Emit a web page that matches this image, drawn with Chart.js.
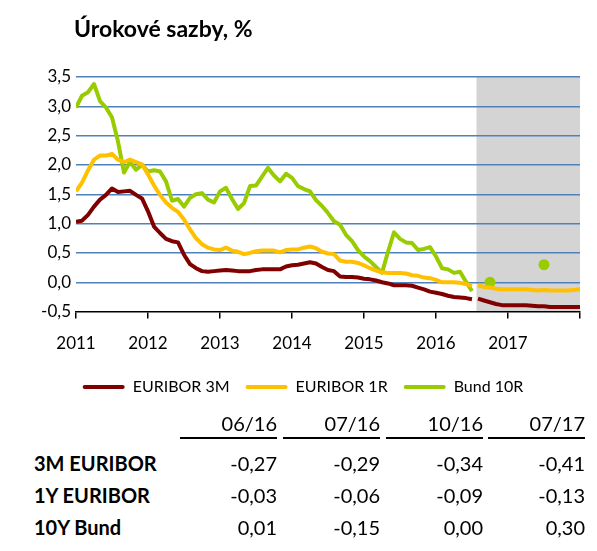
<!DOCTYPE html>
<html>
<head>
<meta charset="utf-8">
<script src="https://cdn.jsdelivr.net/npm/chart.js@4.4.1/dist/chart.umd.min.js"></script>
<style>
  html, body { margin: 0; padding: 0; background: #fff; }
  #wrap { position: relative; width: 597px; height: 551px; overflow: hidden; font-family: Lato, "Open Sans", sans-serif; color: #000; }
  #title { position: absolute; left: 74px; top: 14px; font-size: 23px; font-weight: bold; line-height: 28px; white-space: nowrap; }
  #c { position: absolute; left: 0; top: 0; }
  .hd, .val { position: absolute; width: 120px; text-align: right; font-size: 20px; line-height: 24px; white-space: nowrap; }
  .lbl { position: absolute; left: 34px; font-size: 20px; font-weight: bold; line-height: 24px; white-space: nowrap; }
  .ul { position: absolute; height: 2px; background: #000; width: 97px; }
</style>
</head>
<body>
<div id="wrap">
  <canvas id="c" width="597" height="425"></canvas>
  <div id="title">Úrokové sazby, %</div>
  <div id="table"></div>
</div>
<script>
// ---- data (monthly, Jan 2011 = month 0) ----
const years = ['2011', '2012', '2013', '2014', '2015', '2016', '2017'];
const seriesNames = ['EURIBOR 3M', 'EURIBOR 1R', 'Bund 10R'];

const euribor3M = [
  1.03, 1.05, 1.15, 1.29, 1.41, 1.49, 1.60, 1.54, 1.55, 1.56, 1.49, 1.43,
  1.21, 0.95, 0.84, 0.74, 0.70, 0.68, 0.47, 0.31, 0.24, 0.19, 0.18, 0.19,
  0.20, 0.21, 0.20, 0.19, 0.19, 0.19, 0.21, 0.22, 0.22, 0.22, 0.22, 0.27,
  0.29, 0.30, 0.32, 0.34, 0.32, 0.26, 0.21, 0.19, 0.10, 0.09, 0.09, 0.08,
  0.06, 0.05, 0.03, 0.00, -0.02, -0.05, -0.05, -0.05, -0.06, -0.09, -0.12, -0.16,
  -0.18, -0.20, -0.23, -0.25, -0.26, -0.27, -0.29
];
const euribor1Y = [
  1.55, 1.70, 1.91, 2.09, 2.16, 2.16, 2.19, 2.09, 2.05, 2.09, 2.05, 2.01,
  1.84, 1.65, 1.49, 1.36, 1.27, 1.20, 1.07, 0.90, 0.75, 0.65, 0.59, 0.56,
  0.55, 0.59, 0.54, 0.52, 0.48, 0.50, 0.53, 0.54, 0.54, 0.54, 0.51, 0.55,
  0.56, 0.56, 0.59, 0.61, 0.58, 0.52, 0.49, 0.48, 0.37, 0.35, 0.35, 0.33,
  0.29, 0.24, 0.20, 0.17, 0.16, 0.16, 0.16, 0.15, 0.12, 0.11, 0.08, 0.07,
  0.04, 0.00, 0.00, 0.00, -0.01, -0.03, -0.06
];
const bund10Y = [
  2.98, 3.18, 3.24, 3.38, 3.09, 2.98, 2.81, 2.40, 1.87, 2.05, 1.92, 2.00,
  1.89, 1.91, 1.89, 1.72, 1.39, 1.42, 1.29, 1.44, 1.50, 1.52, 1.41, 1.36,
  1.55, 1.61, 1.42, 1.25, 1.35, 1.64, 1.65, 1.80, 1.95, 1.82, 1.72, 1.85,
  1.78, 1.64, 1.59, 1.55, 1.40, 1.30, 1.18, 1.04, 0.98, 0.81, 0.70, 0.55,
  0.44, 0.36, 0.26, 0.16, 0.52, 0.85, 0.74, 0.68, 0.67, 0.55, 0.57, 0.60,
  0.44, 0.24, 0.22, 0.16, 0.18, 0.01, -0.15
];
// forecasts (Aug 2016 = month 67 ... Jan 2018 = month 84)
const forecastStartMonth = 67;
const forecastShadeFrom = 66.75;
const euribor3MForecast = [
  -0.28, -0.31, -0.34, -0.37, -0.39, -0.39, -0.39, -0.39, -0.39, -0.40,
  -0.41, -0.41, -0.42, -0.42, -0.42, -0.42, -0.42, -0.42
];
const euribor1YForecast = [
  -0.05, -0.08, -0.09, -0.11, -0.12, -0.12, -0.12, -0.12, -0.12, -0.13,
  -0.14, -0.13, -0.14, -0.14, -0.14, -0.14, -0.13, -0.12
];
const bundForecastMonths = [69, 78];
const bundForecastValues = [0.00, 0.30];

// table
const tableColumns = ['06/16', '07/16', '10/16', '07/17'];
const tableRowLabels = ['3M EURIBOR', '1Y EURIBOR', '10Y Bund'];
const table3M = ['-0,27', '-0,29', '-0,34', '-0,41'];
const table1Y = ['-0,03', '-0,06', '-0,09', '-0,13'];
const table10Y = ['0,01', '-0,15', '0,00', '0,30'];

// ---- build ----
const colors = ['#800000', '#ffc000', '#99cc00'];
const toPts = (arr, start) => arr.map((v, i) => ({ x: start + i, y: v }));
const lineDs = (label, data, color, legend) => ({
  label, data, borderColor: color, backgroundColor: color, borderWidth: 4,
  pointRadius: 0, tension: 0, fill: false, borderCapStyle: 'butt', borderJoinStyle: 'round', inLegend: legend
});

const datasets = [
  lineDs(seriesNames[0], toPts(euribor3M, 0), colors[0], true),
  lineDs(seriesNames[1], toPts(euribor1Y, 0), colors[1], true),
  lineDs(seriesNames[2], toPts(bund10Y, 0), colors[2], true),
  lineDs(seriesNames[0] + ' prognóza', toPts(euribor3MForecast, forecastStartMonth), colors[0], false),
  lineDs(seriesNames[1] + ' prognóza', toPts(euribor1YForecast, forecastStartMonth), colors[1], false),
  {
    label: seriesNames[2] + ' prognóza', inLegend: false,
    data: bundForecastMonths.map((m, i) => ({ x: m, y: bundForecastValues[i] })),
    showLine: false, pointRadius: 5.5, pointHoverRadius: 5.5, pointBorderWidth: 0,
    backgroundColor: colors[2], borderColor: colors[2]
  }
];

const shadePlugin = {
  id: 'shade',
  beforeDraw(chart) {
    const { ctx, chartArea: a, scales: { x } } = chart;
    const x0 = x.getPixelForValue(forecastShadeFrom);
    ctx.save();
    ctx.fillStyle = '#d4d4d4';
    ctx.fillRect(x0, a.top, a.right - x0, a.bottom - a.top);
    ctx.restore();
  }
};
// centre the legend under the whole picture and nudge it up a little
const legendShift = {
  id: 'legendShift',
  afterLayout(chart) {
    const lg = chart.legend;
    if (lg) { lg.left += 13; lg.right += 13; lg.top -= 6; lg.bottom -= 6; }
  }
};

const FONT = 'Lato, "Open Sans", sans-serif';

new Chart(document.getElementById('c'), {
  type: 'line',
  data: { datasets },
  plugins: [shadePlugin, legendShift],
  options: {
    responsive: false,
    animation: false,
    events: [],
    layout: { padding: { left: 0, right: 17, top: 77, bottom: 14 } },
    plugins: {
      title: { display: false },
      tooltip: { enabled: false },
      legend: {
        position: 'bottom',
        labels: {
          boxWidth: 42, boxHeight: 4, padding: 16,
          font: { family: FONT, size: 16 }, color: '#000',
          filter: (item, data) => data.datasets[item.datasetIndex].inLegend,
          generateLabels(chart) {
            return Chart.defaults.plugins.legend.labels.generateLabels(chart).map(it => {
              it.fillStyle = it.strokeStyle; it.lineWidth = 0;
              it.borderRadius = 2;
              return it;
            });
          }
        }
      }
    },
    scales: {
      x: {
        type: 'linear', min: 0, max: 84,
        ticks: {
          stepSize: 12, autoSkip: false, maxRotation: 0, padding: 15,
          font: { family: FONT, size: 17 }, color: '#000',
          callback: v => years[v / 12] || ''
        },
        grid: { drawOnChartArea: false, drawTicks: true, tickLength: 7, color: '#000', lineWidth: 1.5 },
        border: { display: true, color: '#000', width: 1.5, z: 1 }
      },
      y: {
        min: -0.5, max: 3.5,
        afterFit: s => { s.width = 76; },
        ticks: {
          stepSize: 0.5, padding: 5,
          font: { family: FONT, size: 17 }, color: '#000',
          callback: v => v.toFixed(1).replace('.', ',')
        },
        grid: {
          drawTicks: false, lineWidth: 1.5,
          color: c => (c.tick && c.tick.value === -0.5) ? 'rgba(0,0,0,0)' : '#4f81bd'
        },
        border: { display: false }
      }
    }
  }
});

// table
(function () {
  const t = document.getElementById('table');
  const rightEdges = [277, 380, 483, 585];
  const rowCenters = [463, 495, 527];
  const rows = [table3M, table1Y, table10Y];
  const add = (cls, text, style) => {
    const d = document.createElement('div');
    d.className = cls; if (text !== null) d.textContent = text;
    Object.assign(d.style, style); t.appendChild(d);
  };
  tableColumns.forEach((h, j) => {
    add('hd', h, { left: (rightEdges[j] - 120) + 'px', top: (423 - 12) + 'px' });
    add('ul', null, { left: (rightEdges[j] - 97) + 'px', top: '437px' });
  });
  rows.forEach((r, i) => {
    add('lbl', tableRowLabels[i], { top: (rowCenters[i] - 12) + 'px' });
    r.forEach((v, j) => add('val', v, { left: (rightEdges[j] - 120) + 'px', top: (rowCenters[i] - 12) + 'px' }));
  });
})();
</script>
</body>
</html>
